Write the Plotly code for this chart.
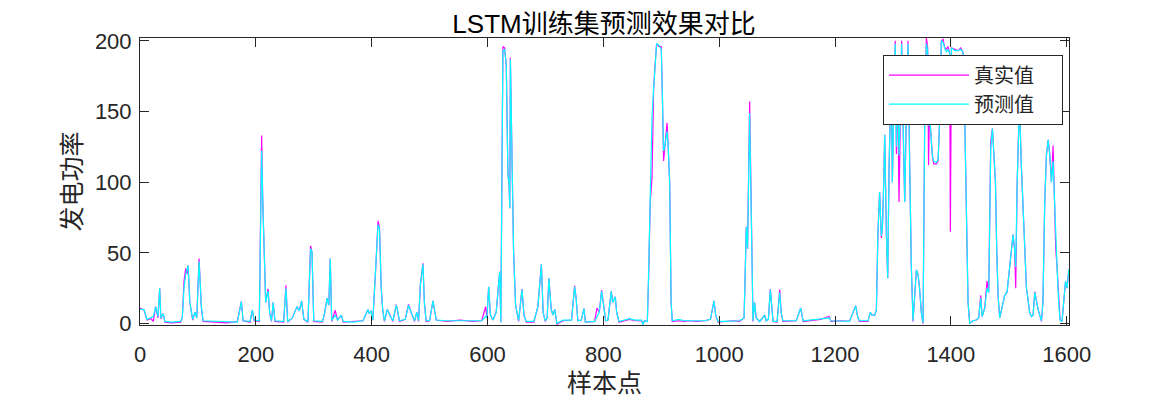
import plotly.graph_objects as go

sample_idx = [
    0, 7, 12, 19, 23, 27, 31, 34, 36, 40,
    43, 55, 70, 73, 76, 79, 81, 83, 86, 91,
    95, 98, 102, 106, 109, 130, 150, 168, 171, 175,
    178, 190, 194, 197, 206, 208, 210, 212, 214.5, 217,
    221, 224, 227, 230, 233, 248, 252, 255, 263, 271,
    275, 279, 283, 290, 294.5, 297, 300, 315, 319, 323,
    326, 328.5, 331, 337, 341, 347.5, 351, 370, 385, 393.5,
    396, 399, 402, 407, 409, 411, 413.5, 416.5, 419, 422,
    427, 431, 436.7, 442.5, 445, 448, 458, 463.7, 468, 474,
    478, 481, 484, 488.5, 491, 494, 500, 505.8, 511.5, 530,
    552, 575, 590, 596.7, 599, 602, 605, 609.4, 615, 621,
    623, 626.6, 629.5, 632.4, 635.3, 637, 638.5, 639.5, 642, 645,
    648.5, 651, 653.7, 659.5, 663, 667, 680, 687, 693, 696,
    699.7, 703, 706, 710, 713, 716, 720, 730, 745, 750.4,
    753, 756, 762, 766.5, 769, 785, 789, 793, 797, 800,
    804, 808, 813.7, 816, 820.6, 823, 827, 845, 855, 866,
    868.4, 871, 876, 878, 881, 884, 886.8, 889.7, 892, 896,
    900, 902, 904, 906.4, 910, 912, 914.5, 917, 919, 930,
    940, 950, 960, 975, 985, 991, 994, 998, 1010, 1025,
    1035, 1043, 1046.9, 1049, 1052.6, 1055, 1058.4, 1061, 1064, 1070,
    1078.5, 1081, 1085, 1088.3, 1091, 1093, 1100, 1104.5, 1107, 1110,
    1133, 1140.7, 1145, 1160, 1175, 1190, 1193, 1210, 1225, 1235.7,
    1239, 1242, 1257, 1261, 1264, 1268.5, 1271.4, 1274, 1277, 1280,
    1282, 1284, 1285.8, 1288.7, 1291, 1293.3, 1296, 1298, 1299, 1302,
    1304, 1306, 1308, 1310.5, 1313, 1315, 1318, 1320.3, 1323, 1326,
    1329, 1331.8, 1334.7, 1337.5, 1340.5, 1343.3, 1346, 1349, 1352, 1354.8,
    1357.7, 1360, 1361.5, 1363, 1366.4, 1368, 1370.4, 1375, 1378, 1380.8,
    1383.6, 1386.5, 1389.4, 1392, 1395, 1398, 1399.2, 1401, 1406.7, 1412.4,
    1417, 1421, 1424, 1426.8, 1429.7, 1432.6, 1438, 1444, 1448, 1451.6,
    1454, 1458.5, 1462.5, 1465.4, 1468.9, 1471.8, 1474.6, 1477, 1479.2, 1481.5,
    1484.4, 1490, 1493, 1497, 1501.7, 1505.7, 1507.4, 1510, 1512, 1514.4,
    1517.2, 1518.4, 1521.8, 1524.7, 1527.6, 1530.5, 1533, 1536, 1539, 1542,
    1544.9, 1547.7, 1550.6, 1553.5, 1556.4, 1559, 1562.1, 1565, 1568, 1570.9,
    1573.7, 1576.5, 1579, 1581.1, 1583.5, 1586.3, 1588.6, 1592, 1595.5, 1598,
    1600.7, 1603.6,
]

true_power = [
    11, 9.5, 2.5, 3.5, 1.5, 12, 4, 25, 3.5, 7,
    1, 0.5, 1, 4, 30, 39, 35, 41, 15, 2.5,
    8, 4, 46, 11, 1.5, 1, 0.5, 1.5, 7, 15.5,
    2, 1, 9.5, 2, 1.5, 74, 133, 86, 53, 15,
    24.5, 7, 1.5, 15, 1.5, 1, 27, 1, 4, 12,
    9, 16, 3, 1, 55, 50, 1.5, 1, 8, 18,
    13, 46, 1.5, 9.5, 2.5, 6, 1, 1.5, 2, 10,
    7, 9, 2.5, 39, 62, 72.6, 68, 25, 10, 1.5,
    10, 6, 1.5, 13.5, 9, 1.5, 3, 13.5, 8, 1.5,
    8, 1.5, 27, 42.6, 15, 1.5, 2, 16, 2.5, 1.5,
    2.5, 1.5, 2, 12, 4, 26, 6, 2.5, 8, 36.7,
    1, 196, 195, 183, 105, 100, 81.6, 188, 125, 51,
    13, 8, 1.5, 24.4, 6, 1, 1, 12, 42, 8,
    1.5, 4, 32, 10, 6, 10, -0.5, 2, 2.5, 26.7,
    18, 2, 2.5, 10.7, 1, 1.5, 11, 8, 23.7, 15,
    2, 2.5, 23, 15, 19, 8, 1, 3, 2, 2,
    -0.5, 2, 1.5, 30, 86, 103, 166, 185, 198, 196,
    196, 160, 115, 126, 142, 125, 100, 15, 1.5, 2,
    1.5, 2, 1.5, 2, 3, 16, 6, 1, 1.5, 2,
    1.5, 4, 68.5, 53, 157, 86, 1.5, 15, 4, 1.5,
    6, 2, 3, 24.4, 8, 1.5, 1, 24, 8, 1.5,
    2, 11, 1.5, 2, 3, 5, 1.5, 2, 1.5, 12.6,
    5, 1.5, 1.5, 8, 6, 6, 9.5, 62.6, 93, 60.5,
    69, 98, 133.5, 63, 32, 110, 157, 145, 100, 165,
    200, 120, 175, 86, 150, 200, 130, 86, 145, 200,
    110, 40, 1.5, 20, 38, 35, 25, 8, 0, 140,
    202, 195, 112, 150, 129, 119, 113, 113, 115, 145,
    200, 201, 195, 194, 196, 191, 65, 195, 194, 193,
    195, 192, 145, 63, 15, 0, 2, 2.5, 4, 20,
    5, 11, 30, 22, 129, 138, 118, 100, 53, 20,
    4, 15, 20, 22, 39, 53, 63, 53, 25, 98,
    145, 157, 111, 86, 53, 25, 18, 8, 5, 6,
    22.5, 15, 10, 6, 1.5, 15, 86, 119, 130, 119,
    100, 126, 86, 53, 39, 13, 2.5, 1.5, 20, 30,
    25, 38,
]

pred_power = [
    10, 10, 3, 4, 5, 12, 5, 25, 4, 7,
    1.5, 1, 1.5, 4, 25, 35, 38, 41, 15, 3,
    8, 4, 44, 12, 2, 1.5, 1, 1, 7, 15.5,
    2, 1.5, 9.5, 2.5, 2, 74, 122, 86, 53, 15,
    23, 7, 2, 15, 2, 1.5, 25, 1.5, 4, 12,
    9, 16, 3, 1.5, 53, 51, 2, 1.5, 8, 18,
    13, 46, 2, 6, 2.5, 6, 1.5, 1, 2, 10,
    7, 9, 2.5, 39, 60, 70, 67, 25, 10, 2,
    10, 6, 2, 13, 9, 2, 3, 13, 8, 2,
    8, 2, 27, 42, 15, 2, 2, 16, 2.5, 2,
    2, 2, 2, 5, 4, 26, 6, 2.5, 8, 36.7,
    1, 193, 194, 183, 105, 100, 81.6, 187, 125, 51,
    13, 8, 2, 24, 6, 1.5, 1.5, 12, 42, 8,
    2, 4, 32, 10, 6, 10, 0, 2.5, 2.5, 26,
    18, 2, 2.5, 10.7, 1, 1.5, 5, 8, 23, 15,
    2, 2.5, 23, 15, 19, 8, 1.5, 3.5, 2.5, 2.5,
    -1, 2, 1.5, 33, 86, 146, 166, 185, 198, 197,
    194, 160, 122, 126, 136, 125, 100, 15, 2, 3,
    2, 2, 2, 2, 3, 16, 6, 1.5, 1.5, 2,
    2, 4, 68.5, 53, 149, 86, 2, 15, 4, 1.5,
    6, 2, 3, 24, 8, 1.5, 1.5, 22, 8, 2,
    2, 11, 2, 2.5, 3, 4, 2, 2, 1.5, 12.6,
    5, 2, 2, 8, 6, 6, 9.5, 62.6, 93, 62,
    69, 98, 133.5, 63, 32, 110, 157, 145, 100, 165,
    198, 125, 170, 119, 150, 198, 130, 86, 145, 198,
    110, 40, 2, 20, 38, 35, 25, 8, 0.5, 140,
    198, 193, 140, 150, 125, 119, 115, 114, 116, 145,
    200, 199, 195, 192, 194, 191, 145, 195, 193, 193,
    194, 192, 145, 63, 15, 0, 2, 2.5, 4, 18,
    5, 11, 25, 22, 124, 138, 115, 100, 53, 20,
    4, 15, 20, 22, 39, 53, 63, 53, 40, 98,
    145, 155, 111, 86, 53, 25, 18, 8, 5, 6,
    22, 15, 10, 6, 2, 15, 86, 119, 130, 119,
    100, 115, 86, 53, 39, 13, 2.5, 1.5, 20, 30,
    25, 38,
]

x_ticks = [0, 200, 400, 600, 800, 1000, 1200, 1400, 1600]
y_ticks = [0, 50, 100, 150, 200]
series_names = ["真实值", "预测值"]
title_text = "LSTM训练集预测效果对比"
x_title = "样本点"
y_title = "发电功率"

assert len(sample_idx) == len(true_power) == len(pred_power)

axis_color = "#262626"
num_font = "Liberation Sans, Arial, sans-serif"
cjk_font = "Liberation Sans, Noto Sans CJK SC, sans-serif"
pad = "\u00a0" * 5  # extra room on the right side of the legend box

fig = go.Figure()
fig.add_trace(go.Scatter(x=sample_idx, y=true_power, mode="lines", name=series_names[0] + pad,
                         line=dict(color="#FF00FF", width=1.2)))
fig.add_trace(go.Scatter(x=sample_idx, y=pred_power, mode="lines", name=series_names[1] + pad,
                         line=dict(color="#00FFFF", width=1.2)))

axis_common = dict(
    ticks="inside", ticklen=9, tickwidth=1, tickcolor=axis_color,
    showline=True, linecolor=axis_color, linewidth=1, mirror="ticks",
    showgrid=False, zeroline=False, automargin=False,
    tickfont=dict(family=num_font, size=22, color=axis_color),
)

# page has an 8px body margin, so the figure is sized to fit inside it
fig.update_layout(
    width=1168, height=389,
    margin=dict(l=132, r=107, t=30, b=72),
    paper_bgcolor="white", plot_bgcolor="white",
    title=dict(text=title_text, x=0.5103, xanchor="center", y=0.96, yanchor="middle",
               font=dict(family=cjk_font, size=26, color="black"), automargin=False),
    xaxis=dict(range=[0, 1604], tickvals=x_ticks, ticklabelstandoff=10,
               title=dict(text=x_title, font=dict(family=cjk_font, size=25, color=axis_color), standoff=10),
               **axis_common),
    yaxis=dict(range=[-1, 202], tickvals=y_ticks, ticklabelstandoff=3,
               title=dict(text=y_title, font=dict(family=cjk_font, size=25, color=axis_color), standoff=6),
               **axis_common),
    legend=dict(x=0.9935, xanchor="right", y=0.942, yanchor="top",
                bgcolor="white", bordercolor=axis_color, borderwidth=1,
                font=dict(family="Noto Sans CJK SC, sans-serif", size=20, color=axis_color),
                itemwidth=80, tracegroupgap=0),
    showlegend=True,
)

fig.write_html("out.html")
